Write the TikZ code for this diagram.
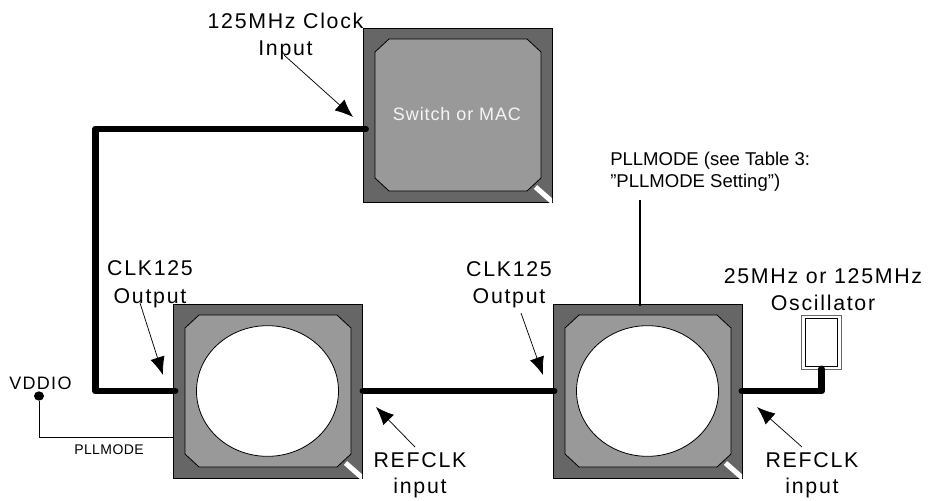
\documentclass[tikz,border=0pt]{standalone}
\usepackage{fontspec}
\setmainfont{Liberation Sans}
\usetikzlibrary{arrows.meta,shapes.geometric}
\definecolor{chipdark}{HTML}{666666}
\definecolor{chipmid}{HTML}{999999}
\newfontface\lbl[LetterSpace=8]{Liberation Sans}
\newfontface\lblm[LetterSpace=7]{Liberation Sans}
\newfontface\lbls[LetterSpace=3]{Liberation Sans}
\newfontface\lblw[LetterSpace=5]{Liberation Sans}
\tikzset{
  x=0.75pt,y=-0.75pt,
  chipbody/.style={draw=black,line width=0.6pt,fill=chipdark,minimum width=141.75pt,minimum height=130.5pt,inner sep=0pt,outer sep=0pt},
  chipcore/.style={draw=black,line width=0.6pt,fill=chipmid},
  chipdisc/.style={draw=black,line width=0.6pt,fill=white,ellipse,minimum width=106.5pt,minimum height=98pt,inner sep=0pt,outer sep=0pt},
  wire/.style={line width=5.2pt,line cap=round,line join=round},
  thin wire/.style={line width=0.6pt},
  mid wire/.style={line width=1.1pt},
  pointer/.style={line width=0.55pt,-{Latex[length=13.5pt,width=11pt]}},
  big/.style={font=\fontsize{16}{18}\lbl,anchor=base,inner sep=0pt,align=center},
}
\newcommand{\chipat}[3]{%
  \node[chipbody] (#1) at (#2,#3) {};
  \path[chipcore] (#2-94.5+12+14,#3-76) -- (#2+94.5-11-14,#3-76) -- (#2+94.5-11,#3-76+13) -- (#2+94.5-11,#3+76-13)
    -- (#2+94.5-11-14,#3+76) -- (#2-94.5+12+14,#3+76) -- (#2-94.5+12,#3+76-13) -- (#2-94.5+12,#3-76+13) -- cycle;
  \begin{scope}
    \clip (#1.south west) rectangle (#1.north east);
    \draw[white,line width=3.8pt] (#2+78,#3+72) -- (#2+95,#3+87);
  \end{scope}
}
\begin{document}
\begin{tikzpicture}
\useasboundingbox (0,0) rectangle (928,500);
\chipat{mac}{457.5}{115}
\chipat{phya}{267.5}{391}
\chipat{phyb}{647.5}{391}
\node[chipdisc] (disca) at (267.5,391) {};
\node[chipdisc] (discb) at (647.5,391) {};
\node[font=\fontsize{13.5}{16}\lblw,text=white!96!black,inner sep=0pt,anchor=base] (mactext) at (457,120.5) {Switch or MAC};

% oscillator
\node[draw=chipdark,line width=0.5pt,minimum width=30pt,minimum height=40.5pt,inner sep=0pt,outer sep=0pt,fill=white] (osc) at (821,342) {};
\node[draw=black,line width=0.6pt,minimum width=24pt,minimum height=36pt,inner sep=0pt,outer sep=0pt] (oscin) at (821,342) {};

% wires
\coordinate (macpin) at (365.5,129);
\coordinate (apinl) at (175,391);
\coordinate (apinr) at (363,391);
\coordinate (bpinl) at (554,391);
\coordinate (bpinr) at (742,391);
\coordinate (oscpin) at (821.5,369);
\draw[wire] (macpin) -- (95.5,129) -- (95.5,391) -- (apinl);
\draw[wire] (apinr) -- (bpinl);
\draw[wire] (bpinr) -- (821.5,391) -- (oscpin);

% pllmode wires
\coordinate (pllb) at (640,306);
\coordinate (plltop) at (640,200);
\draw[mid wire] (plltop) -- (pllb);
\node[fill=black,ellipse,minimum width=7.5pt,minimum height=7pt,inner sep=0pt] (vdd) at (39,396) {};
\coordinate (pllleft) at (173.5,437);
\draw[thin wire] (vdd) -- (39,437) -- (pllleft);

% labels
\node[big] (t1) at (285.5,28) {125MHz Clock};
\node[big] (t2) at (285.5,55) {Input};
\node[big] (t3) at (150,275) {CLK125};
\node[big] (t4) at (150,303) {Output};
\node[big] (t5) at (509,276) {CLK125};
\node[big] (t6) at (509,303) {Output};
\node[big] (t7) at (420,467) {REFCLK};
\node[big] (t8) at (420,493) {input};
\node[big] (t9) at (812,467) {REFCLK};
\node[big] (t10) at (812,493) {input};
\node[big] (t11) at (823,283) {25MHz or 125MHz};
\node[big] (t12) at (823,310) {Oscillator};
\node[font=\fontsize{13.5}{16}\lblm,anchor=base,inner sep=0pt] (t13) at (40.5,389) {VDDIO};
\node[font=\fontsize{10.5}{12}\lbls,anchor=base,inner sep=0pt] (t14) at (109,454) {PLLMODE};
\node[font=\fontsize{13.9}{16}\selectfont,anchor=base west,inner sep=0pt] (t15) at (610,165) {PLLMODE (see Table 3:};
\node[font=\fontsize{13.9}{16}\selectfont,anchor=base west,inner sep=0pt] (t16) at (610,187) {”PLLMODE Setting”)};

% pointers
\coordinate (p1) at (284,55);   \coordinate (q1) at (353,117);
\coordinate (p2) at (140,303);  \coordinate (q2) at (163,375);
\coordinate (p3) at (521,313);  \coordinate (q3) at (543,375);
\coordinate (p4) at (415,447);  \coordinate (q4) at (376,407);
\coordinate (p5) at (802,447);  \coordinate (q5) at (757,407);
\draw[pointer] (p1) -- (q1);
\draw[pointer] (p2) -- (q2);
\draw[pointer] (p3) -- (q3);
\draw[pointer] (p4) -- (q4);
\draw[pointer] (p5) -- (q5);
\end{tikzpicture}
\end{document}
